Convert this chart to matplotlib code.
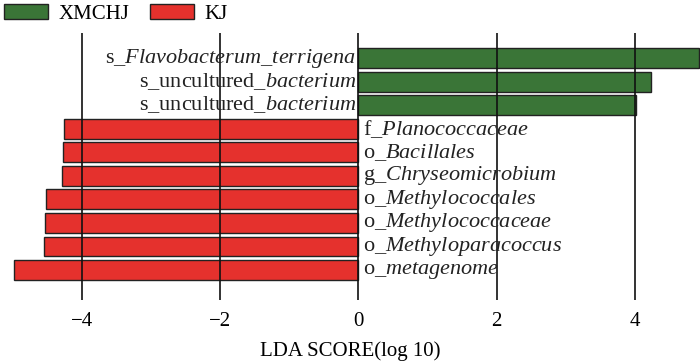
import matplotlib.pyplot as plt
from matplotlib.patches import Patch

# LEfSe LDA scores, top to bottom
taxa = [
    r"s_$\mathit{Flavobacterum\_terrigena}$",
    r"s_uncultured_$\mathit{bacterium}$",
    r"s_uncultured_$\mathit{bacterium}$",
    r"f_$\mathit{Planococcaceae}$",
    r"o_$\mathit{Bacillales}$",
    r"g_$\mathit{Chryseomicrobium}$",
    r"o_$\mathit{Methylococcales}$",
    r"o_$\mathit{Methylococcaceae}$",
    r"o_$\mathit{Methyloparacoccus}$",
    r"o_$\mathit{metagenome}$",
]
scores = [4.92, 4.23, 4.02, -4.26, -4.27, -4.29, -4.52, -4.53, -4.54, -4.98]
groups = ["XMCHJ", "XMCHJ", "XMCHJ", "KJ", "KJ", "KJ", "KJ", "KJ", "KJ", "KJ"]
group_names = ["XMCHJ", "KJ"]
group_colors = {"XMCHJ": "#3a7537", "KJ": "#e5312d"}
xticks = [-4, -2, 0, 2, 4]

plt.rcParams["font.family"] = ["Liberation Serif", "DejaVu Serif"]
plt.rcParams["mathtext.fontset"] = "custom"
plt.rcParams["mathtext.rm"] = "Liberation Serif"
plt.rcParams["mathtext.it"] = "Liberation Serif:italic"

fig = plt.figure(figsize=(7, 3.64), dpi=100)
ax = fig.add_axes([0, 0.176, 1, 0.733])

ypos = list(range(len(taxa)))
colors = [group_colors[g] for g in groups]
ax.barh(ypos, scores, height=0.84, color=colors, edgecolor="#222222", linewidth=1.0)

# labels sit next to the zero line, on the side opposite the bar
for y, s, lab in zip(ypos, scores, taxa):
    if s > 0:
        ax.text(-0.03, y, lab, ha="right", va="center", fontsize=16, color="#222222")
    else:
        ax.text(0.07, y, lab, ha="left", va="center", fontsize=16, color="#222222")

ax.set_xlim(-5.18, 4.94)
ax.set_ylim(9 + 1.27, -1.06)
ax.set_xticks(xticks)
ax.set_xticklabels(["\u2212" + str(abs(t)) if t < 0 else str(t) for t in xticks], fontsize=15)
ax.set_yticks([])
ax.tick_params(axis="x", length=0, pad=9)
ax.set_axisbelow(False)
ax.xaxis.grid(True, color="#111111", linewidth=1.2)
for sp in ax.spines.values():
    sp.set_visible(False)
ax.set_xlabel("LDA SCORE(log 10)", fontsize=15, labelpad=7)

handles = [Patch(facecolor=group_colors[g], edgecolor="#222222", label=g) for g in group_names]
fig.legend(handles=handles, loc="upper left", bbox_to_anchor=(0.0, 1.0), ncol=2, frameon=False,
           fontsize=15, handlelength=2.1, handleheight=0.7, handletextpad=0.5,
           columnspacing=1.0, borderaxespad=0.1, borderpad=0.1)

plt.savefig("out.png", dpi=100)
